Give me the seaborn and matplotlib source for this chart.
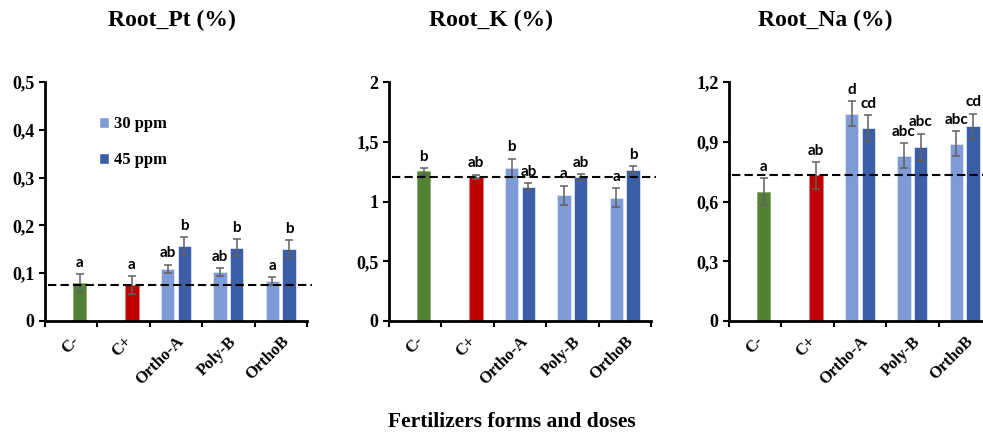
import pandas as pd
import matplotlib.pyplot as plt
import numpy as np
import seaborn as sns
from matplotlib.patches import Patch
from matplotlib.ticker import FuncFormatter

# categories and doses
cats = ['C-', 'C+', 'Ortho-A', 'Poly-B', 'OrthoB']
doses = ['30 ppm', '45 ppm']

# controls (sit in the 45 ppm slot)
pt_ctrl = [0.079, 0.075]
pt_ctrl_err = [0.019, 0.019]
pt_30 = [0.109, 0.102, 0.084]
pt_30_err = [0.009, 0.008, 0.008]
pt_45 = [0.157, 0.153, 0.150]
pt_45_err = [0.018, 0.018, 0.019]
pt_letters = ['a', 'a', 'ab', 'b', 'ab', 'b', 'a', 'b']

k_ctrl = [1.253, 1.206]
k_ctrl_err = [0.028, 0.020]
k_30 = [1.281, 1.053, 1.031]
k_30_err = [0.078, 0.081, 0.080]
k_45 = [1.123, 1.206, 1.267]
k_45_err = [0.028, 0.022, 0.028]
k_letters = ['b', 'ab', 'b', 'ab', 'a', 'ab', 'a', 'b']

na_ctrl = [0.649, 0.732]
na_ctrl_err = [0.067, 0.068]
na_30 = [1.042, 0.829, 0.890]
na_30_err = [0.062, 0.063, 0.063]
na_45 = [0.970, 0.873, 0.978]
na_45_err = [0.066, 0.068, 0.064]
na_letters = ['a', 'ab', 'd', 'cd', 'abc', 'abc', 'abc', 'cd']

titles = ['Root_Pt (%)', 'Root_K (%)', 'Root_Na (%)']
title_x = [0.175, 0.4995, 0.8395]
ymax = [0.5, 2.0, 1.2]
ystep = [0.1, 0.5, 0.3]

c_green = '#548235'
c_red = '#C00000'
c_light = '#7F9BD5'
c_dark = '#3A5FA7'

sns.set_style('white')
plt.rcParams['font.family'] = ['Liberation Serif', 'DejaVu Serif']
plt.rcParams['font.weight'] = 'bold'
plt.rcParams['text.color'] = 'black'
plt.rcParams['xtick.color'] = 'black'
plt.rcParams['ytick.color'] = 'black'


def make_df(ctrl, ctrl_err, v30, e30, v45, e45, letters):
    rows = []
    rows.append(('C-', '45 ppm', ctrl[0], ctrl_err[0]))
    rows.append(('C+', '45 ppm', ctrl[1], ctrl_err[1]))
    for i, c in enumerate(cats[2:]):
        rows.append((c, '30 ppm', v30[i], e30[i]))
        rows.append((c, '45 ppm', v45[i], e45[i]))
    df = pd.DataFrame(rows, columns=['form', 'dose', 'value', 'err'])
    df['letter'] = letters
    return df


dfs = [make_df(pt_ctrl, pt_ctrl_err, pt_30, pt_30_err, pt_45, pt_45_err, pt_letters),
       make_df(k_ctrl, k_ctrl_err, k_30, k_30_err, k_45, k_45_err, k_letters),
       make_df(na_ctrl, na_ctrl_err, na_30, na_30_err, na_45, na_45_err, na_letters)]

fig = plt.figure(figsize=(9.83, 4.32), dpi=100)
lefts = [0.0458, 0.3957, 0.7416]

for i, df in enumerate(dfs):
    ax = fig.add_axes([lefts[i], 0.257, 0.2665, 0.553])
    sns.barplot(data=df, x='form', y='value', hue='dose', order=cats, hue_order=doses,
                palette=[c_light, c_dark], width=0.64, gap=0.2, errorbar=None, saturation=1,
                legend=False, ax=ax, edgecolor='#dce4f2', linewidth=0.6)

    for p in ax.patches:
        xc = p.get_x() + p.get_width() / 2
        idx = int(round(xc))
        dose = '30 ppm' if xc < idx else '45 ppm'
        row = df[(df['form'] == cats[idx]) & (df['dose'] == dose)]
        if len(row) == 0:
            continue
        if idx == 0:
            p.set_facecolor(c_green)
            p.set_edgecolor('#8fb070')
        elif idx == 1:
            p.set_facecolor(c_red)
            p.set_edgecolor('#e08080')
        h = row['value'].iloc[0]
        e = row['err'].iloc[0]
        ax.errorbar(xc, h, yerr=e, color='#606060', elinewidth=1.1, capsize=3, capthick=1.1, zorder=4)
        ax.annotate(row['letter'].iloc[0], (xc, h + e), xytext=(0, 3), textcoords='offset points',
                    ha='center', va='bottom', fontsize=11, fontweight='bold', color='black',
                    family=['Lato', 'Liberation Sans', 'DejaVu Sans'])

    ref = df.loc[df['form'] == 'C+', 'value'].iloc[0]
    ax.axhline(ref, xmin=0.01, xmax=1.02, clip_on=False, color='black', lw=1.5, ls=(0, (4, 2)), zorder=5)

    ax.set_xlim(-0.5, 4.5)
    ax.set_ylim(0, ymax[i])
    ax.set_yticks(np.arange(0, ymax[i] + 1e-9, ystep[i]))
    ax.yaxis.set_major_formatter(FuncFormatter(lambda v, pos: f'{round(v, 2):g}'.replace('.', ',')))
    ax.set_xticks(np.arange(-0.5, 5, 1))
    ax.set_xticklabels([])
    ax.set_xticks(range(5), minor=True)
    ax.set_xticklabels(cats, minor=True, rotation=45, ha='right', rotation_mode='anchor',
                       fontsize=12, fontweight='bold')
    ax.tick_params(axis='x', which='minor', length=0, pad=9, labelcolor='black')
    ax.tick_params(axis='x', which='major', direction='out', length=4, width=1.5, color='black', bottom=True)
    ax.tick_params(axis='y', direction='out', length=4, width=1.5, color='black', left=True,
                   labelsize=13, labelcolor='black')
    for lab in ax.get_yticklabels():
        lab.set_fontweight('bold')
    sns.despine(ax=ax)
    for s in ['left', 'bottom']:
        ax.spines[s].set_color('black')
        ax.spines[s].set_linewidth(2)
    ax.set_xlabel('')
    ax.set_ylabel('')

    fig.text(title_x[i], 0.953, titles[i], ha='center', va='center', fontsize=17, fontweight='bold')

    if i == 0:
        handles = [Patch(facecolor=c_light), Patch(facecolor=c_dark)]
        ax.legend(handles, doses, loc='upper left', bbox_to_anchor=(0.15, 0.92), frameon=False,
                  handlelength=0.6, handleheight=0.6, handletextpad=0.3, labelspacing=1.2,
                  labelcolor='black',
                  prop={'family': 'Liberation Serif', 'weight': 'bold', 'size': 12})

fig.text(0.521, 0.023, 'Fertilizers forms and doses', ha='center', va='center', fontsize=15.5, fontweight='bold')

plt.savefig('out.png', dpi=100)
